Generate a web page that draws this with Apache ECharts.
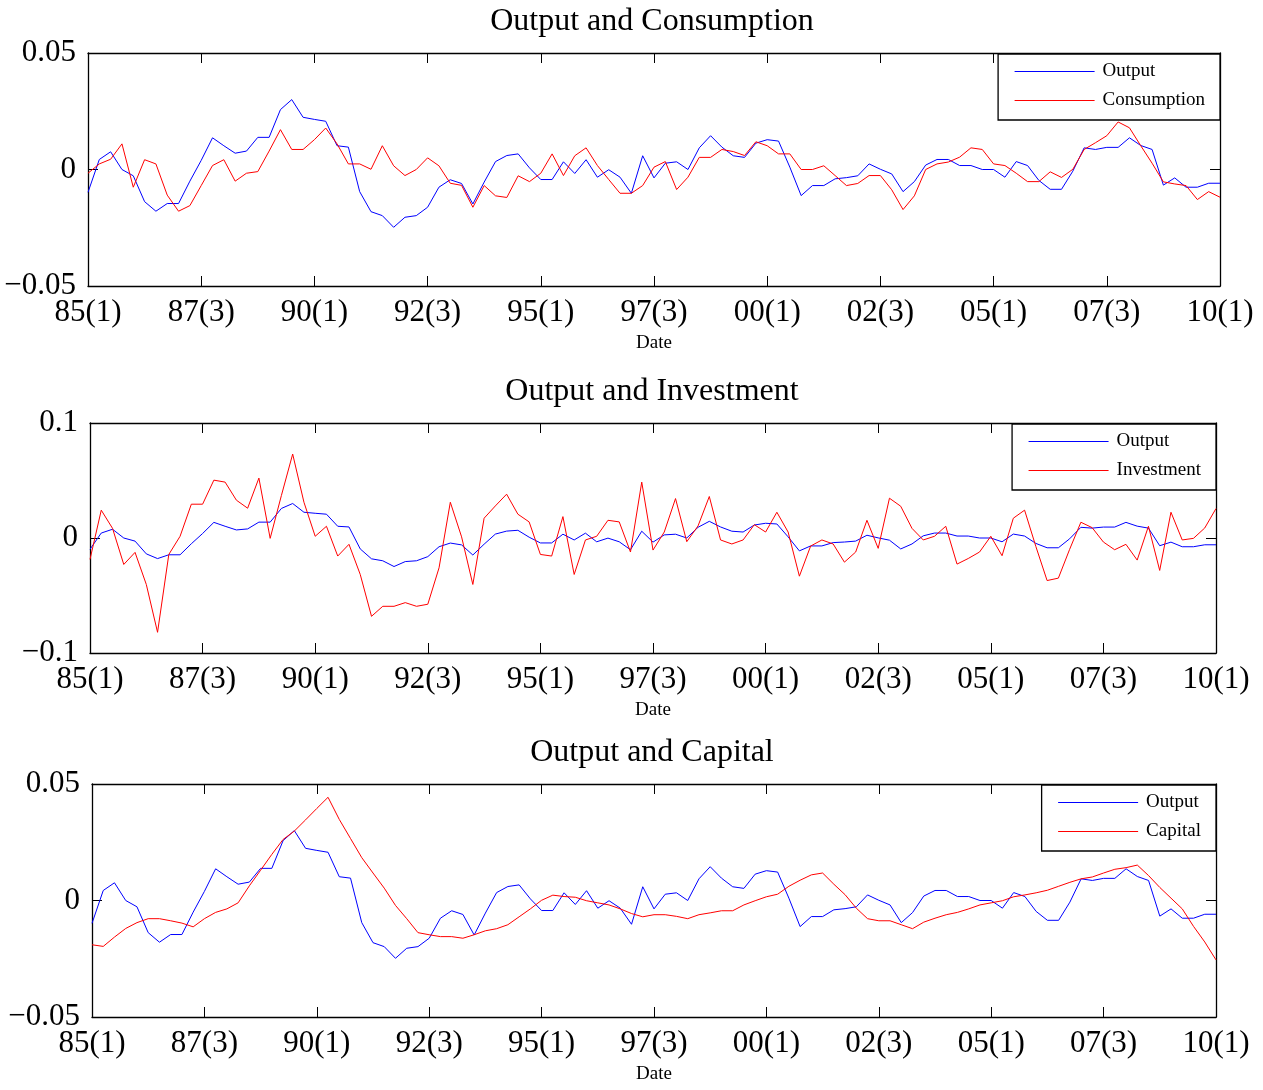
<!DOCTYPE html>
<html>
<head>
    <meta charset="utf-8">
    <title>Output and Consumption / Investment / Capital</title>
    <script src="https://cdn.jsdelivr.net/npm/echarts@6/dist/echarts.min.js"></script>
    <style type="text/css">
        * {
            margin: 0px;
            padding: 0px;
        }

        #main {
            position: absolute;
            width: 1263px;
            height: 1090px;
            background: #fff;
        }
    </style>
</head>
<body>
<div id="main"></div>
<script type="text/javascript">
    // 数据: 1985(1) - 2010(1), 季度
    var firstYear = 1985;
    var nQuarters = 101;

    var output = [
        -0.0098, 0.0043, 0.0076, 0.0, -0.0027, -0.0138, -0.0179, -0.0146, -0.0146, -0.005,
        0.0039, 0.0136, 0.0102, 0.007, 0.0079, 0.0138, 0.0138, 0.0257, 0.030, 0.0224,
        0.0215, 0.0207, 0.0102, 0.0096, -0.0095, -0.0181, -0.0198, -0.0248, -0.0205, -0.0198,
        -0.0162, -0.0076, -0.0044, -0.006, -0.0148, -0.0054, 0.0034, 0.006, 0.0067, 0.0007,
        -0.0043, -0.0043, 0.0033, -0.0017, 0.0042, -0.0033, -0.0001, -0.0033, -0.0102, 0.0059,
        -0.0036, 0.0027, 0.0033, 0.0, 0.0093, 0.0145, 0.0096, 0.0059, 0.0052, 0.0113,
        0.0128, 0.0122, 0.001, -0.0112, -0.0069, -0.0069, -0.004, -0.0035, -0.0027, 0.0024,
        0.0001, -0.0019, -0.0095, -0.0052, 0.0019, 0.0043, 0.0043, 0.0017, 0.0017, 0.0,
        0.0, -0.0033, 0.0034, 0.0017, -0.0047, -0.0085, -0.0085, -0.0007, 0.0093, 0.0086,
        0.0095, 0.0095, 0.0136, 0.0103, 0.0086, -0.0067, -0.0036, -0.0076, -0.0076, -0.0059,
        -0.0059
    ];

    var consumption = [
        -0.0016, 0.0024, 0.0044, 0.011, -0.0076, 0.0042, 0.0024, -0.011, -0.0179, -0.0155,
        -0.0069, 0.0017, 0.0042, -0.005, -0.0016, -0.0009, 0.0079, 0.0171, 0.0086, 0.0086,
        0.0128, 0.0178, 0.011, 0.0024, 0.0024, 0.0001, 0.0102, 0.0016, -0.0026, 0.0,
        0.005, 0.0016, -0.0059, -0.0068, -0.0162, -0.0069, -0.0113, -0.012, -0.0027, -0.0052,
        -0.0016, 0.0067, -0.0026, 0.0059, 0.0093, 0.0017, -0.0043, -0.0102, -0.0102, -0.0069,
        0.001, 0.0034, -0.0086, -0.0033, 0.0052, 0.0052, 0.0086, 0.0077, 0.006, 0.0119,
        0.0102, 0.0067, 0.0067, 0.0, 0.0, 0.0016, -0.0026, -0.0069, -0.006, -0.0026,
        -0.0026, -0.0087, -0.0172, -0.0113, 0.0, 0.0024, 0.0032, 0.0053, 0.0093, 0.0086,
        0.0024, 0.0017, -0.0016, -0.0052, -0.0052, -0.001, -0.0034, 0.0001, 0.0086, 0.0115,
        0.0145, 0.0204, 0.0179, 0.0102, 0.0027, -0.0053, -0.0062, -0.0069, -0.0129, -0.0095,
        -0.0119
    ];

    var investment = [
        -0.0186, 0.0242, 0.0084, -0.023, -0.0125, -0.0404, -0.082, -0.0143, 0.0015, 0.0294,
        0.0294, 0.0503, 0.0486, 0.0329, 0.0259, 0.0521, -0.0003, 0.037, 0.073, 0.0311,
        0.0015, 0.0102, -0.0157, -0.0055, -0.0317, -0.0681, -0.0594, -0.0594, -0.0562, -0.0594,
        -0.0576, -0.0259, 0.0311, 0.001, -0.0404, 0.0172, 0.0279, 0.0381, 0.0207, 0.014,
        -0.0143, -0.0157, 0.0186, -0.0317, -0.0017, 0.0015, 0.0154, 0.014, -0.0122, 0.0486,
        -0.0105, 0.0052, 0.0343, -0.0032, 0.0105, 0.0361, -0.0017, -0.0052, -0.0017, 0.0116,
        0.0052, 0.0224, 0.0052, -0.0332, -0.007, -0.0017, -0.0052, -0.021, -0.0122, 0.0154,
        -0.009, 0.0346, 0.0276, 0.0084, -0.0017, 0.0015, 0.0102, -0.0227, -0.0178, -0.0122,
        0.0015, -0.0154, 0.0172, 0.0242, -0.0073, -0.037, -0.0349, -0.0099, 0.0137, 0.009,
        -0.0035, -0.0102, -0.0055, -0.0192, 0.0102, -0.0282, 0.0224, -0.0017, -0.0003, 0.0087,
        0.0256
    ];

    var capital = [
        -0.019, -0.0197, -0.0157, -0.012, -0.0095, -0.0078, -0.0078, -0.0087, -0.0097, -0.0113,
        -0.0078, -0.0051, -0.0036, -0.001, 0.0063, 0.013, 0.0198, 0.0262, 0.0298, 0.0346,
        0.0395, 0.0443, 0.0348, 0.0266, 0.0184, 0.0118, 0.0053, -0.0021, -0.0078, -0.0138,
        -0.0147, -0.0155, -0.0155, -0.0162, -0.0147, -0.013, -0.0121, -0.0104, -0.007, -0.0036,
        0.0001, 0.0023, 0.0017, 0.0014, -0.0001, -0.001, -0.0019, -0.0036, -0.0056, -0.007,
        -0.0061, -0.0061, -0.0068, -0.0078, -0.0061, -0.0053, -0.0044, -0.0044, -0.0019, -0.0001,
        0.0016, 0.0027, 0.0061, 0.0087, 0.011, 0.0118, 0.007, 0.0025, -0.0033, -0.0078,
        -0.0087, -0.0087, -0.0104, -0.0121, -0.0093, -0.0076, -0.0061, -0.0051, -0.0036, -0.0019,
        -0.001, -0.0001, 0.0016, 0.0024, 0.0033, 0.0044, 0.0061, 0.0078, 0.0093, 0.0101,
        0.0118, 0.0134, 0.0141, 0.0152, 0.0107, 0.0056, 0.001, -0.0036, -0.0111, -0.0178,
        -0.0255
    ];

    // 季度标签 85(1) ... 10(1)
    var quarters = [];
    for (var k = 0; k < nQuarters; k++) {
        var yy = (firstYear + Math.floor(k / 4)) % 100;
        quarters.push((yy < 10 ? '0' + yy : '' + yy) + '(' + (k % 4 + 1) + ')');
    }

    var panelTitles = ['Output and Consumption', 'Output and Investment', 'Output and Capital'];
    var otherNames = ['Consumption', 'Investment', 'Capital'];
    var otherData = [consumption, investment, capital];
    var yLimits = [0.05, 0.1, 0.05];

    var serif = 'Liberation Serif, Times New Roman, serif';

    // 每个子图的位置
    var grids = [
        {left: 88, right: 43, top: 53, height: 233},
        {left: 90, right: 47, top: 423, height: 230},
        {left: 92, right: 47, top: 784, height: 233}
    ];
    var titleY = [22, 392, 753];
    var legendBoxes = [
        {right: 43, top: 54},
        {right: 47, top: 424},
        {right: 47, top: 785}
    ];

    function fmtY(v) {
        if (Math.abs(v) < 1e-9) return '0';
        return String(+v.toFixed(2)).replace('-', '\u2212');
    }

    var axisLine = {show: true, onZero: false, lineStyle: {color: '#000', width: 1.3}};
    var xAxes = [], yAxes = [], series = [], legends = [], graphics = [];

    for (var g = 0; g < 3; g++) {
        xAxes.push({
            type: 'category', gridIndex: g, data: quarters, boundaryGap: false, position: 'bottom',
            axisLine: axisLine,
            axisTick: {inside: true, length: 10, interval: 9, lineStyle: {color: '#000'}},
            axisLabel: {interval: 9, color: '#000', fontFamily: serif, fontSize: 31, margin: 11},
            splitLine: {show: false},
            name: 'Date', nameLocation: 'middle', nameGap: 48,
            nameTextStyle: {color: '#000', fontFamily: serif, fontSize: 19}
        });
        xAxes.push({
            type: 'category', gridIndex: g, data: quarters, boundaryGap: false, position: 'top',
            axisLine: axisLine,
            axisTick: {inside: true, length: 10, interval: 9, lineStyle: {color: '#000'}},
            axisLabel: {show: false},
            splitLine: {show: false}
        });
        yAxes.push({
            type: 'value', gridIndex: g, position: 'left',
            min: -yLimits[g], max: yLimits[g], interval: yLimits[g],
            axisLine: axisLine,
            axisTick: {show: true, inside: true, length: 10, lineStyle: {color: '#000'}},
            axisLabel: {color: '#000', fontFamily: serif, fontSize: 31, margin: 12, formatter: fmtY},
            splitLine: {show: false}
        });
        yAxes.push({
            type: 'value', gridIndex: g, position: 'right',
            min: -yLimits[g], max: yLimits[g], interval: yLimits[g],
            axisLine: axisLine,
            axisTick: {show: true, inside: true, length: 10, lineStyle: {color: '#000'}},
            axisLabel: {show: false},
            splitLine: {show: false}
        });

        series.push({
            name: 'Output', type: 'line', xAxisIndex: 2 * g, yAxisIndex: 2 * g,
            data: output, symbol: 'none', color: '#0000ff',
            lineStyle: {color: '#0000ff', width: 1}
        });
        series.push({
            name: otherNames[g], type: 'line', xAxisIndex: 2 * g, yAxisIndex: 2 * g,
            data: otherData[g], symbol: 'none', color: '#ff0000',
            lineStyle: {color: '#ff0000', width: 1}
        });

        legends.push({
            data: ['Output', otherNames[g]],
            orient: 'vertical',
            right: legendBoxes[g].right, top: legendBoxes[g].top,
            padding: [8, 15, 10, 16],
            itemWidth: 80, itemHeight: 19, itemGap: 10,
            itemStyle: {opacity: 0},
            lineStyle: {width: 1, opacity: 1},
            backgroundColor: '#fff', borderColor: '#000', borderWidth: 1.3, borderRadius: 0,
            textStyle: {color: '#000', fontFamily: serif, fontSize: 19, padding: [0, 0, 0, 3]}
        });

        graphics.push({
            type: 'text', x: 652, y: titleY[g],
            style: {
                text: panelTitles[g], fill: '#000', font: '32px ' + serif,
                textAlign: 'center', textVerticalAlign: 'middle'
            }
        });
    }

    var myChart = echarts.init(document.getElementById('main'));
    myChart.setOption({
        animation: false,
        backgroundColor: '#fff',
        grid: grids,
        xAxis: xAxes,
        yAxis: yAxes,
        legend: legends,
        series: series,
        graphic: graphics
    });
</script>
</body>
</html>
